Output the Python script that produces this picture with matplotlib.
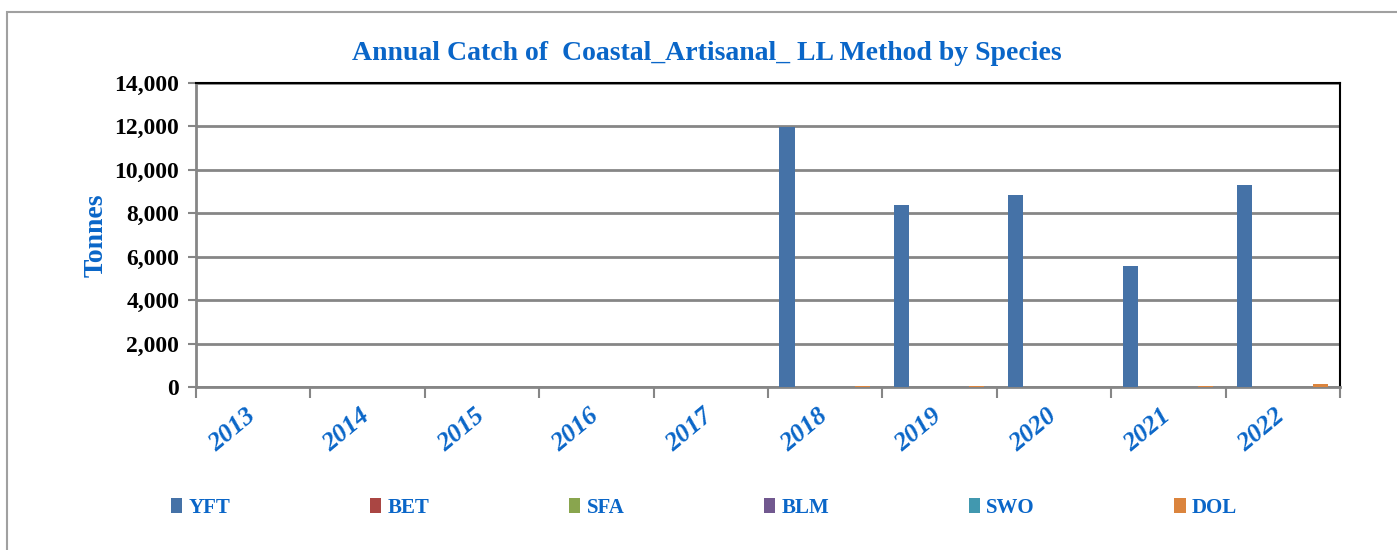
import matplotlib.pyplot as plt
import numpy as np
from matplotlib.patches import Rectangle
from matplotlib.ticker import FuncFormatter
from matplotlib.transforms import ScaledTranslation

years = ['2013', '2014', '2015', '2016', '2017', '2018', '2019', '2020', '2021', '2022']
species = ['YFT', 'BET', 'SFA', 'BLM', 'SWO', 'DOL']
yft = [0, 0, 0, 0, 0, 11980, 8400, 8830, 5580, 9280]
bet = [0, 0, 0, 0, 0, 0, 0, 0, 0, 0]
sfa = [0, 0, 0, 0, 0, 0, 0, 0, 0, 0]
blm = [0, 0, 0, 0, 0, 0, 0, 0, 0, 0]
swo = [0, 0, 0, 0, 0, 0, 0, 0, 0, 0]
dol = [0, 0, 0, 0, 0, 40, 40, 0, 40, 140]
colors = ['#4572A7', '#AA4643', '#89A54E', '#71588F', '#4198AF', '#DB843D']

blue = '#0A66C8'
serif = ['Liberation Serif', 'DejaVu Serif']

fig = plt.figure(figsize=(13.97, 5.5), dpi=100)
ax = fig.add_axes([0.1403, 0.2964, 0.8189, 0.5527])

# outer chart frame (runs off the right and bottom edges)
fig.patches.append(Rectangle((0.005, -0.02), 1.0, 0.998, transform=fig.transFigure,
                             fill=False, edgecolor='#A0A0A0', linewidth=1.5))

x = np.arange(len(years))
w = 0.132
for j, (name, vals) in enumerate(zip(species, [yft, bet, sfa, blm, swo, dol])):
    ax.bar(x - 0.4 + w * (j + 0.5), vals, width=w, color=colors[j],
           edgecolor='none', label=name, zorder=3)

ax.set_xlim(-0.5, 9.5)
ax.set_ylim(0, 14000)
ax.set_yticks(np.arange(0, 14001, 2000))
ax.yaxis.set_major_formatter(FuncFormatter(lambda v, p: f'{int(v):,}'))
ax.grid(axis='y', color='#868686', linewidth=2, zorder=0)

ax.set_xticks(np.arange(-0.5, 10, 1))
ax.set_xticklabels([])
ax.set_xticks(x, minor=True)
ax.set_xticklabels(years, minor=True, rotation=40, ha='right', va='top',
                   rotation_mode='anchor', fontsize=19, fontweight='bold',
                   fontstyle='italic', color=blue, family=serif)
ax.tick_params(axis='x', which='minor', length=0, pad=12)
ax.tick_params(axis='x', which='major', length=8, width=1.5, color='#868686')
ax.tick_params(axis='y', length=6, width=1.5, color='#868686', pad=6)
for lab in ax.get_yticklabels():
    lab.set_fontsize(17)
    lab.set_fontweight('bold')
    lab.set_family(serif)

# nudge the slanted year labels a little to the left
shift = ScaledTranslation(-8 / 100, 0, fig.dpi_scale_trans)
for lab in ax.get_xticklabels(minor=True):
    lab.set_transform(lab.get_transform() + shift)

for side in ['left', 'bottom']:
    ax.spines[side].set_color('#868686')
    ax.spines[side].set_linewidth(2)
for side in ['top', 'right']:
    ax.spines[side].set_color('black')
    ax.spines[side].set_linewidth(1.5)

ax.set_ylabel('Tonnes', fontsize=20, fontweight='bold', color=blue,
              family=serif, labelpad=4)
fig.text(0.506, 0.903, 'Annual Catch of  Coastal_Artisanal_ LL Method by Species',
         ha='center', va='center', fontsize=20, fontweight='bold', color=blue,
         family=serif)

leg = fig.legend(loc='center left', bbox_to_anchor=(0.109, 0.052, 0.79, 0.05),
                 mode='expand', ncol=6, frameon=False, handlelength=0.55,
                 handleheight=0.75, handletextpad=0.3,
                 prop={'family': serif, 'weight': 'bold', 'size': 15})
for t in leg.get_texts():
    t.set_color(blue)

fig.savefig('out.png', dpi=100)
